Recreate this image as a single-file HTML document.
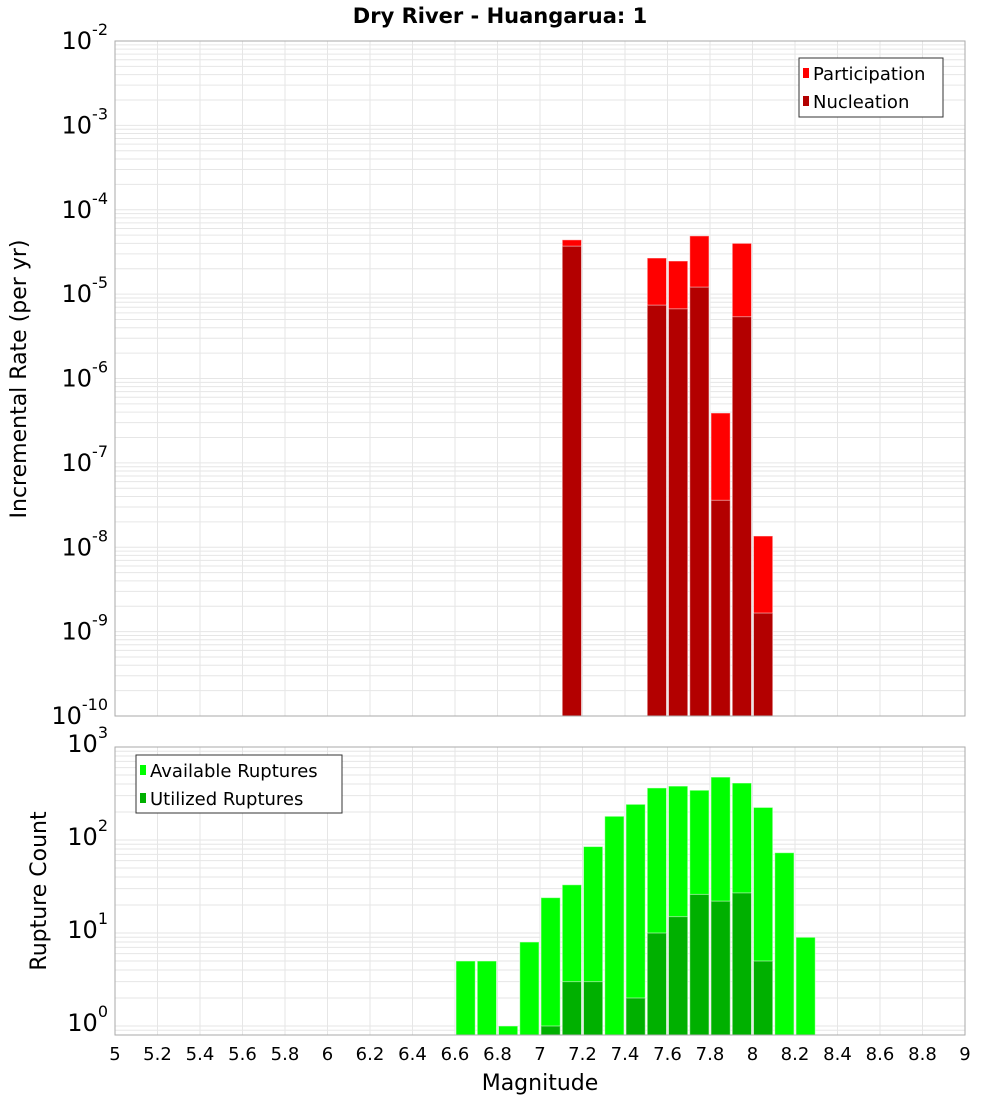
<!DOCTYPE html>
<html><head><meta charset="utf-8"><style>
body{margin:0;background:#fff;}
svg{display:block;font-family:"DejaVu Sans","Liberation Sans",sans-serif;}
</style></head><body>
<svg id="chart" width="1000" height="1100" viewBox="0 0 1000 1100" xmlns="http://www.w3.org/2000/svg">
<text x="500" y="23" text-anchor="middle" font-size="21" font-weight="bold">Dry River - Huangarua: 1</text>
<g id="top"></g><g id="bot"></g>
</svg>
<script>
const mags = [7.15, 7.55, 7.65, 7.75, 7.85, 7.95, 8.05];
const participation = [4.4e-5, 2.68e-5, 2.47e-5, 4.9e-5, 3.9e-7, 4.0e-5, 1.36e-8];
const nucleation = [3.7e-5, 7.4e-6, 6.7e-6, 1.21e-5, 3.6e-8, 5.4e-6, 1.66e-9];
const botMags = [6.65,6.75,6.85,6.95,7.05,7.15,7.25,7.35,7.45,7.55,7.65,7.75,7.85,7.95,8.05,8.15,8.25];
const available = [5,5,1,8,24,33,85,180,242,363,380,343,475,410,224,73,9];
const utilized = [0,0,0,0,1,3,3,0,2,10,15,26,22,27,5,0,0];
const xTicks = [5,5.2,5.4,5.6,5.8,6,6.2,6.4,6.6,6.8,7,7.2,7.4,7.6,7.8,8,8.2,8.4,8.6,8.8,9];
const topExps = [-2,-3,-4,-5,-6,-7,-8,-9,-10];
const botExps = [0,1,2,3];

const NS="http://www.w3.org/2000/svg";
const X0=115,X1=965;
const xs=m=>X0+(m-5)/(9-5)*(X1-X0);
function mk(p,t,a){const e=document.createElementNS(NS,t);for(const k in a)e.setAttribute(k,a[k]);p.appendChild(e);return e;}
const topY=v=>41+(-2-Math.log10(v))*84.375;
const botY=v=>1026-Math.log10(v)*93;

function frame(g,yT,yB,yfun,dMin,dMax){
  mk(g,'rect',{x:X0,y:yT,width:X1-X0,height:yB-yT,fill:'#fff'});
  for(let d=dMin;d<dMax;d++)for(let k=1;k<10;k++){
    const y=yfun(k*Math.pow(10,d)); if(y<yT||y>yB)continue;
    const l=mk(g,'line',{x1:X0,x2:X1,y1:y,y2:y,stroke:'#e6e6e6','stroke-width':1});
    
  }
  xTicks.forEach(t=>{const l=mk(g,'line',{x1:xs(t),x2:xs(t),y1:yT,y2:yB,stroke:'#e6e6e6','stroke-width':1});
    });
}
function bar(g,m,v,base,yfun,fill,name){
  const y=yfun(v);const r=mk(g,'rect',{x:xs(m-0.05)+1,y:y,width:21.25-2,height:base-y,fill:fill,stroke:'rgba(255,255,255,0.5)','stroke-width':1});
  
}
function ylabel(g,e,y,name){
  const t=mk(g,'text',{x:108,y:y+8,'text-anchor':'end','font-size':24});
  
  t.innerHTML='10<tspan dy="-14" font-size="16">'+e+'</tspan>';
}
// top
const gt=document.getElementById('top');
frame(gt,41,716,topY,-10,-2);
mags.forEach((m,i)=>{bar(gt,m,participation[i],716,topY,'#ff0000','participation-bar');bar(gt,m,nucleation[i],716,topY,'#b30000','nucleation-bar');});
mk(gt,'rect',{x:X0,y:41,width:X1-X0,height:675,fill:'none',stroke:'#aaa'});
topExps.forEach(e=>ylabel(gt,e,topY(Math.pow(10,e)),'y-tick-label'));
let t=mk(gt,'text',{x:0,y:0,transform:'translate(26,379) rotate(-90)','text-anchor':'middle','font-size':22});
t.textContent='Incremental Rate (per yr)';
let lg=mk(gt,'g',{});
mk(lg,'rect',{x:799,y:58,width:144,height:59,fill:'#fff',stroke:'#333'});
mk(lg,'rect',{x:803,y:68,width:6,height:10,fill:'#ff0000'});
mk(lg,'rect',{x:803,y:96,width:6,height:10,fill:'#b30000'});
t=mk(lg,'text',{x:813,y:80,'font-size':18});t.textContent='Participation';
t=mk(lg,'text',{x:813,y:108,'font-size':18});t.textContent='Nucleation';
// bottom
const gb=document.getElementById('bot');
frame(gb,747,1035,botY,-1,3);
botMags.forEach((m,i)=>{bar(gb,m,available[i],1035,botY,'#00ff00','available-bar');if(utilized[i]>0)bar(gb,m,utilized[i],1035,botY,'#00b000','utilized-bar');});
mk(gb,'rect',{x:X0,y:747,width:X1-X0,height:288,fill:'none',stroke:'#aaa'});
botExps.forEach(e=>ylabel(gb,e,botY(Math.pow(10,e))-3,'y-tick-label'));
t=mk(gb,'text',{x:0,y:0,transform:'translate(46,891) rotate(-90)','text-anchor':'middle','font-size':22});
t.textContent='Rupture Count';
lg=mk(gb,'g',{});
mk(lg,'rect',{x:136,y:755,width:206,height:58,fill:'#fff',stroke:'#333'});
mk(lg,'rect',{x:140,y:765,width:6,height:10,fill:'#00ff00'});
mk(lg,'rect',{x:140,y:793,width:6,height:10,fill:'#00b000'});
t=mk(lg,'text',{x:150,y:777,'font-size':18});t.textContent='Available Ruptures';
t=mk(lg,'text',{x:150,y:805,'font-size':18});t.textContent='Utilized Ruptures';
xTicks.forEach(v=>{const tt=mk(gb,'text',{x:xs(v),y:1060,'text-anchor':'middle','font-size':18});
  tt.textContent=String(v);});
t=mk(gb,'text',{x:540,y:1090,'text-anchor':'middle','font-size':22});
t.textContent='Magnitude';
</script>
</body></html>
